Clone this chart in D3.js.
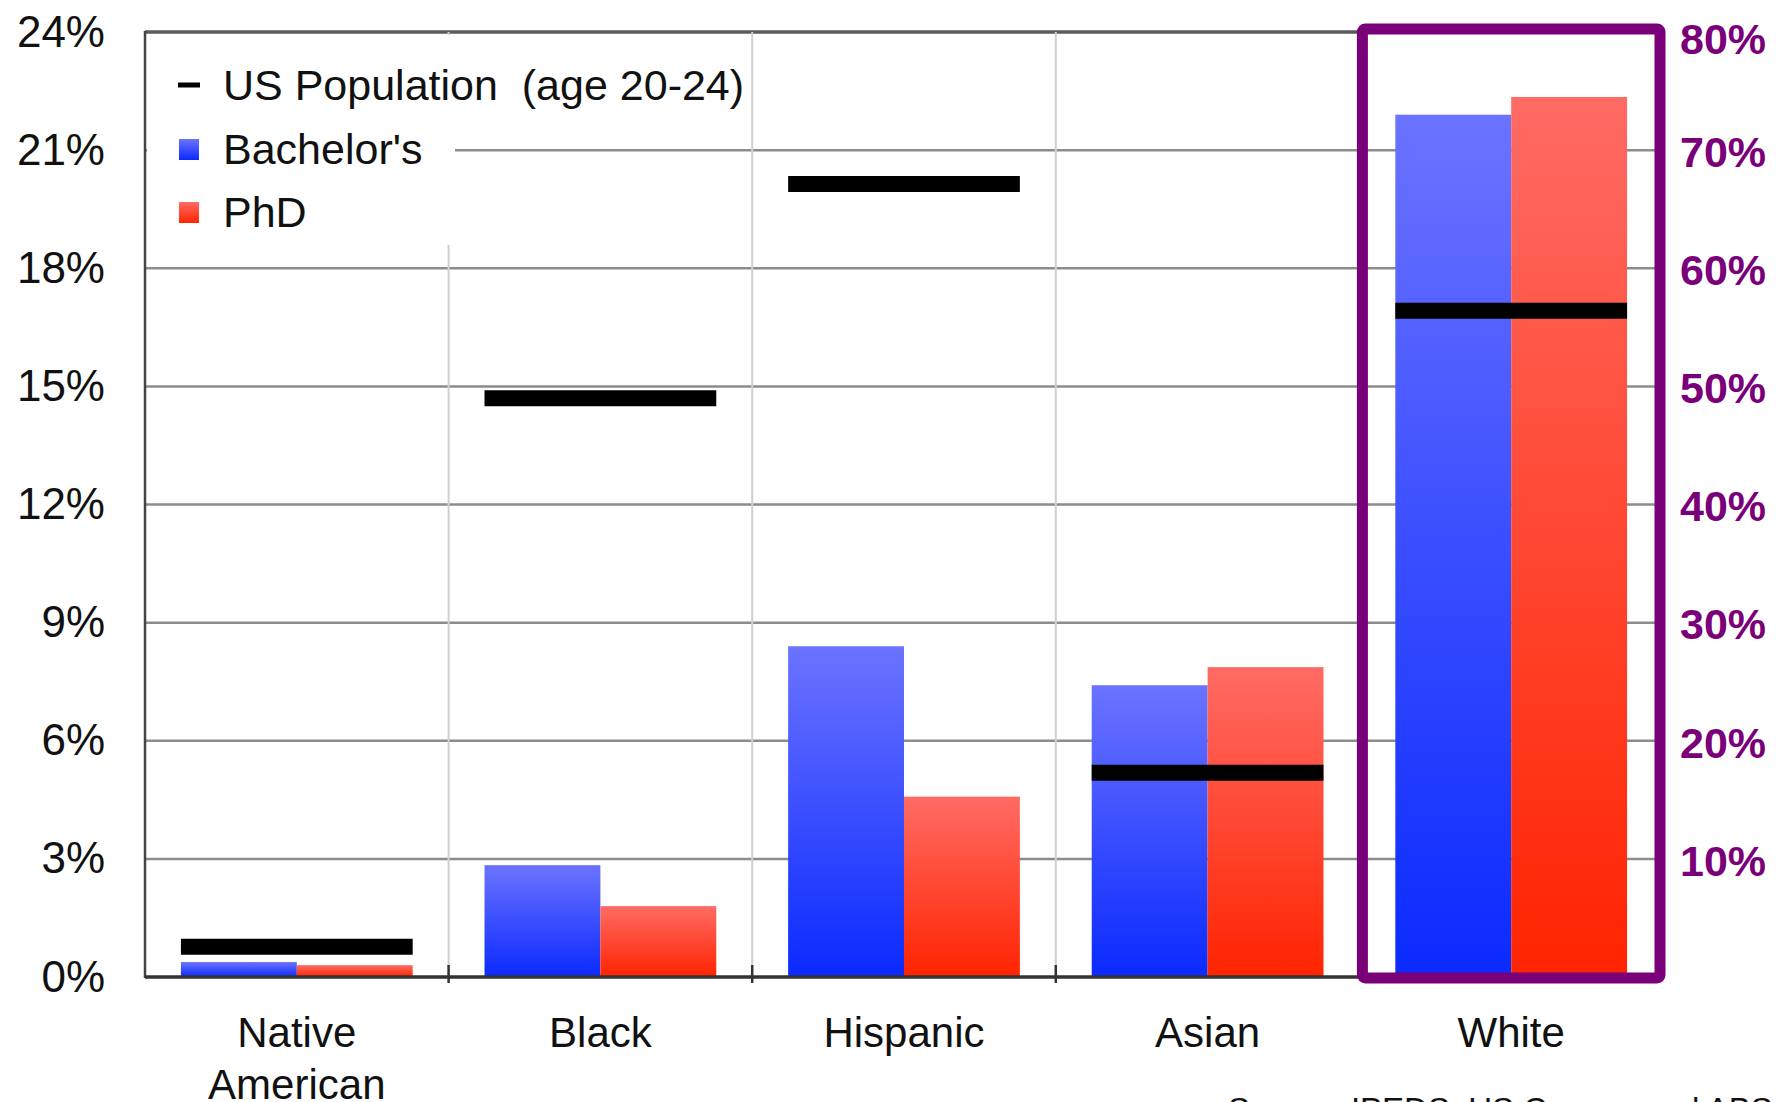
<!DOCTYPE html>
<html>
<head>
<meta charset="utf-8">
<script src="https://cdn.jsdelivr.net/npm/d3@7"></script>
<style>
  html, body { margin: 0; padding: 0; background: #fff; overflow: hidden; }
  svg { display: block; font-family: "Liberation Sans", Arial, sans-serif; }
</style>
</head>
<body>
<svg id="chart"></svg>
<script>
// values; White is on the right (purple) axis
var categories = ["Native American", "Black", "Hispanic", "Asian", "White"];
var series = ["Bachelor's", "PhD"];
var bachelors = [0.38, 2.84, 8.40, 7.41, 73.0];
var phd = [0.30, 1.80, 4.58, 7.87, 74.5];
var usPopulation = [0.77, 14.70, 20.14, 5.19, 56.4];
var rightAxisCategory = "White";
var leftTicks = [0, 3, 6, 9, 12, 15, 18, 21, 24];
var rightTicks = [10, 20, 30, 40, 50, 60, 70, 80];

var W = 1776, H = 1102;
var plotL = 145, plotR = 1663, plotT = 32, plotB = 977;
var purple = '#7a007a';

var svg = d3.select('#chart').attr('width', W).attr('height', H);

var defs = svg.append('defs');
function grad(id, c1, c2) {
    var g = defs.append('linearGradient').attr('id', id)
        .attr('x1', 0).attr('y1', 0).attr('x2', 0).attr('y2', 1);
    g.append('stop').attr('offset', '0%').attr('stop-color', c1);
    g.append('stop').attr('offset', '100%').attr('stop-color', c2);
}
grad('gBlue', '#6b73ff', '#0a2aff');
grad('gRed', '#ff6b64', '#ff2400');
var fills = {"Bachelor's": 'url(#gBlue)', "PhD": 'url(#gRed)'};

var xs = d3.scaleBand().domain(categories).range([plotL, plotR]);
var xi = d3.scaleBand().domain(series).range([0, xs.bandwidth()]).paddingOuter(0.31);
var yl = d3.scaleLinear().domain([0, 24]).range([plotB, plotT]);
var yr = d3.scaleLinear().domain([0, 80]).range([plotB, plotT]);
function ys(cat) { return cat === rightAxisCategory ? yr : yl; }

// horizontal grid
svg.append('g').selectAll('line')
    .data(leftTicks.filter(function(d) { return d > 0; }))
    .enter().append('line')
    .attr('x1', plotL).attr('x2', plotR)
    .attr('y1', function(d) { return yl(d); })
    .attr('y2', function(d) { return yl(d); })
    .attr('stroke', function(d) { return d === 24 ? '#5a5a5a' : '#8c8c8c'; })
    .attr('stroke-width', function(d) { return d === 24 ? 3.5 : 2.5; });

// vertical separators
svg.append('g').selectAll('line')
    .data(categories.slice(1))
    .enter().append('line')
    .attr('x1', function(d) { return xs(d); })
    .attr('x2', function(d) { return xs(d); })
    .attr('y1', plotT).attr('y2', plotB)
    .attr('stroke', '#cfcfcf').attr('stroke-width', 2);

// legend background hides the grid behind it
svg.append('rect').attr('x', plotL + 2).attr('y', plotT + 3)
    .attr('width', 308).attr('height', 210).attr('fill', '#fff');

// bars
var rows = categories.map(function(c, i) {
    return {cat: c, vals: [{s: series[0], v: bachelors[i]}, {s: series[1], v: phd[i]}], pop: usPopulation[i]};
});

var grp = svg.append('g').selectAll('g')
    .data(rows).enter().append('g')
    .attr('transform', function(d) { return 'translate(' + xs(d.cat) + ',0)'; });

grp.selectAll('rect')
    .data(function(d) { return d.vals.map(function(e) { return {cat: d.cat, s: e.s, v: e.v}; }); })
    .enter().append('rect')
    .attr('x', function(d) { return xi(d.s); })
    .attr('width', xi.bandwidth())
    .attr('y', function(d) { return ys(d.cat)(d.v); })
    .attr('height', function(d) { return plotB - ys(d.cat)(d.v); })
    .attr('fill', function(d) { return fills[d.s]; });

// population markers
grp.append('line')
    .attr('x1', xi(series[0]))
    .attr('x2', xi(series[1]) + xi.bandwidth())
    .attr('y1', function(d) { return ys(d.cat)(d.pop); })
    .attr('y2', function(d) { return ys(d.cat)(d.pop); })
    .attr('stroke', '#000').attr('stroke-width', 16);

// axis lines
svg.append('line').attr('x1', plotL).attr('x2', plotL).attr('y1', plotT - 1).attr('y2', plotB + 1)
    .attr('stroke', '#444').attr('stroke-width', 2.5);
svg.append('line').attr('x1', plotL).attr('x2', plotR).attr('y1', plotB).attr('y2', plotB)
    .attr('stroke', '#333').attr('stroke-width', 3.5);
svg.append('g').selectAll('line')
    .data(categories.slice(1, 4))
    .enter().append('line')
    .attr('x1', function(d) { return xs(d); })
    .attr('x2', function(d) { return xs(d); })
    .attr('y1', plotB - 12).attr('y2', plotB + 6)
    .attr('stroke', '#333').attr('stroke-width', 2.5);

// left axis labels
var la = svg.append('g').attr('transform', 'translate(' + plotL + ',0)')
    .call(d3.axisLeft(yl).tickValues(leftTicks).tickSize(0).tickPadding(40)
        .tickFormat(function(d) { return d + '%'; }));
la.select('.domain').remove();
la.selectAll('text').attr('font-size', 44).attr('fill', '#111')
    .attr('font-family', '"Liberation Sans", Arial, sans-serif');

// right axis labels
var ra = svg.append('g').attr('transform', 'translate(' + plotR + ',0)')
    .call(d3.axisRight(yr).tickValues(rightTicks).tickSize(0).tickPadding(17)
        .tickFormat(function(d) { return d + '%'; }));
ra.select('.domain').remove();
ra.selectAll('text').attr('font-size', 43).attr('font-weight', 'bold').attr('fill', purple)
    .attr('font-family', '"Liberation Sans", Arial, sans-serif')
    .attr('dy', function(d) { return d === 80 ? '0.5em' : '0.38em'; });

// purple highlight box
svg.append('rect')
    .attr('x', xs(rightAxisCategory) + 3)
    .attr('y', plotT - 3)
    .attr('width', xs.bandwidth() - 6)
    .attr('height', plotB - plotT + 4)
    .attr('rx', 3)
    .attr('fill', 'none').attr('stroke', purple).attr('stroke-width', 11);

// category labels
var cl = svg.append('g').selectAll('text')
    .data(categories).enter().append('text')
    .attr('x', function(d) { return xs(d) + xs.bandwidth() / 2; })
    .attr('y', 1047)
    .attr('text-anchor', 'middle')
    .attr('font-size', 42).attr('fill', '#111');
cl.each(function(d) {
    var words = d.split(' ');
    var t = d3.select(this);
    words.forEach(function(w, i) {
        t.append('tspan').attr('x', xs(d) + xs.bandwidth() / 2)
            .attr('dy', i === 0 ? 0 : 52).text(w);
    });
});

// legend
var lg = svg.append('g');
lg.append('line').attr('x1', 178).attr('x2', 200).attr('y1', 85).attr('y2', 85)
    .attr('stroke', '#000').attr('stroke-width', 5);
lg.append('rect').attr('x', 179).attr('y', 139).attr('width', 20).attr('height', 21).attr('fill', 'url(#gBlue)');
lg.append('rect').attr('x', 179).attr('y', 202).attr('width', 20).attr('height', 21).attr('fill', 'url(#gRed)');
var legendLabels = ['US Population\u00a0 (age 20-24)', series[0], series[1]];
var legendY = [85, 149, 212];
lg.selectAll('text').data(legendLabels).enter().append('text')
    .attr('x', 223).attr('y', function(d, i) { return legendY[i]; })
    .attr('dy', '0.35em')
    .attr('font-size', 43).attr('fill', '#111')
    .text(function(d) { return d; });

// source line, cut by the bottom edge
svg.append('text').attr('x', 1228).attr('y', 1121)
    .attr('font-size', 33).attr('fill', '#111')
    .text('Source: IPEDS, US Census and ABS');
</script>
</body>
</html>
